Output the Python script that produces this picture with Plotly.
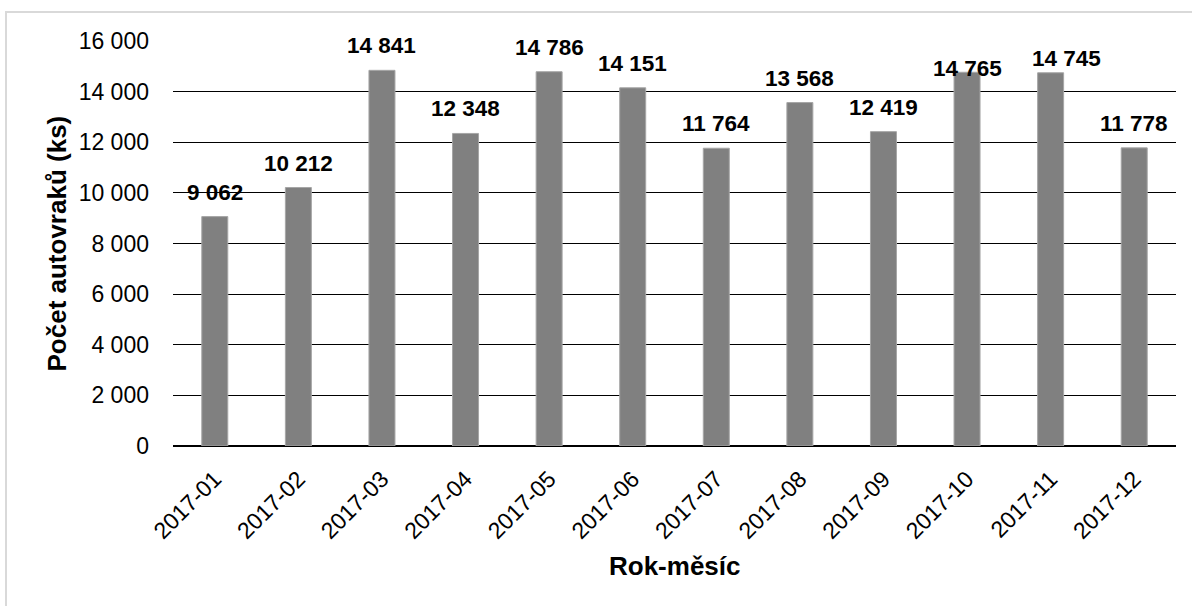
import plotly.graph_objects as go

categories = ["2017-01", "2017-02", "2017-03", "2017-04", "2017-05", "2017-06",
              "2017-07", "2017-08", "2017-09", "2017-10", "2017-11", "2017-12"]
values = [9062, 10212, 14841, 12348, 14786, 14151, 11764, 13568, 12419, 14765, 14745, 11778]
y_ticks = [0, 2000, 4000, 6000, 8000, 10000, 12000, 14000, 16000]
y_tick_labels = ["0", "2 000", "4 000", "6 000", "8 000", "10 000", "12 000", "14 000", "16 000"]
labels = [f"{v:,}".replace(",", " ") for v in values]

# label placement tweaks (pixels), as in the original chart
label_nudges = {"2017-10": (0, -21), "2017-11": (16, -10)}

font_family = "Liberation Sans, Arial, sans-serif"
W, H = 1192, 606
L, R, T, B = 173, 16, 41, 160
pw, ph = W - L - R, H - T - B

fig = go.Figure(go.Bar(
    x=categories, y=values,
    marker=dict(color="#808080", line=dict(color="#a6a6a6", width=1)),
    hoverinfo="x+y",
))

annotations = []
for c, v, t in zip(categories, values, labels):
    dx, dy = label_nudges.get(c, (0, 0))
    annotations.append(dict(
        x=c, y=v, xref="x", yref="y", text=t, showarrow=False,
        yanchor="bottom", xanchor="center", yshift=10 + dy, xshift=dx,
        font=dict(family=font_family, size=22.5, color="black", weight="bold"),
    ))
annotations.append(dict(
    x=(56 - L) / pw, y=0.5, xref="paper", yref="paper", text="Počet autovraků (ks)",
    showarrow=False, textangle=-90, xanchor="center", yanchor="middle",
    font=dict(family=font_family, size=26, color="black", weight="bold"),
))
annotations.append(dict(
    x=(675 - L) / pw, y=-(565.5 - (T + ph)) / ph, xref="paper", yref="paper", text="Rok-měsíc",
    showarrow=False, xanchor="center", yanchor="middle",
    font=dict(family=font_family, size=26, color="black", weight="bold"),
))

fig.update_layout(
    width=W, height=H,
    paper_bgcolor="white", plot_bgcolor="white",
    margin=dict(l=L, r=R, t=T, b=B, autoexpand=False),
    bargap=0.689,
    showlegend=False,
    font=dict(family=font_family, color="black"),
    annotations=annotations,
    shapes=[dict(type="rect", xref="paper", yref="paper",
                 x0=(6 - L) / pw, x1=1.05, y0=-0.6, y1=1 + (T - 12) / ph,
                 line=dict(color="#d9d9d9", width=2), fillcolor="rgba(0,0,0,0)", layer="below")],
)
fig.update_yaxes(
    range=[0, 16000], tickvals=y_ticks, ticktext=y_tick_labels,
    showgrid=True, gridcolor="black", gridwidth=1.3,
    zeroline=True, zerolinecolor="black", zerolinewidth=2,
    tickfont=dict(size=23, family=font_family, color="black"),
    ticks="", ticklen=0, showline=False, automargin=False, ticklabelstandoff=23,
)
fig.update_xaxes(
    type="category",
    tickangle=-45, tickfont=dict(size=23, family=font_family, color="black"),
    showline=False, ticks="", automargin=False, ticklabelstandoff=14,
)

fig.write_html("out.html", config={"displayModeBar": False},
               post_script="document.body.style.margin='0';")
